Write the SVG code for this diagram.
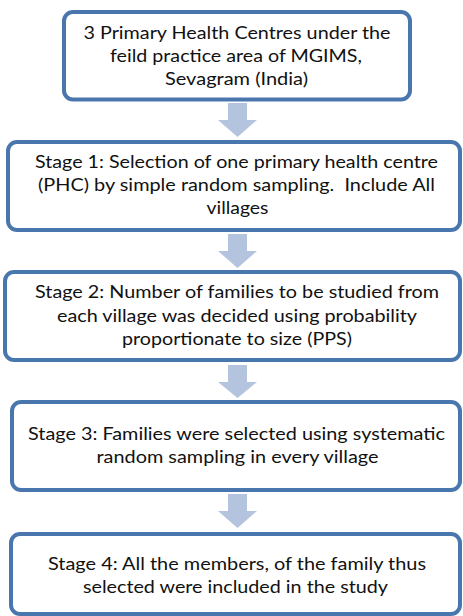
<svg xmlns="http://www.w3.org/2000/svg" width="463" height="616" viewBox="0 0 463 616">
<style>
.box{fill:#ffffff;stroke:#4a76ae;stroke-width:4}
.arr{fill:#b4c4df;stroke:none}
text{font-family:Lato,"Noto Sans","Liberation Sans",sans-serif;font-size:18px;fill:#111111;text-anchor:middle}
</style>
<rect width="463" height="616" fill="#ffffff"/>
<g id="connectors">
<path class="arr" d="M228,103 H247 V120 H257 L237.5,137 L218,120 H228 Z"/>
<path class="arr" d="M228,234 H247 V251 H257 L237.5,268 L218,251 H228 Z"/>
<path class="arr" d="M228,365 H247 V382 H257 L237.5,398 L218,382 H228 Z"/>
<path class="arr" d="M228,494 H247 V511 H257 L237.5,528 L218,511 H228 Z"/>
</g>
<g id="node0">
<rect class="box" x="64" y="12" width="346" height="87.5" rx="9"/>
<text x="237" y="38.5" textLength="307" lengthAdjust="spacingAndGlyphs">3 Primary Health Centres under the</text>
<text x="236" y="61.5" textLength="252" lengthAdjust="spacingAndGlyphs">feild practice area of MGIMS,</text>
<text x="236.5" y="84.5" textLength="143" lengthAdjust="spacingAndGlyphs">Sevagram (India)</text>
</g>
<g id="node1">
<rect class="box" x="8" y="142" width="452" height="88" rx="9"/>
<text x="236.5" y="168" textLength="403" lengthAdjust="spacingAndGlyphs">Stage 1: Selection of one primary health centre</text>
<text x="236.5" y="191" textLength="397" lengthAdjust="spacingAndGlyphs" xml:space="preserve">(PHC) by simple random sampling.  Include All</text>
<text x="237.5" y="214" textLength="62" lengthAdjust="spacingAndGlyphs">villages</text>
</g>
<g id="node2">
<rect class="box" x="5" y="272" width="455" height="88" rx="9"/>
<text x="237" y="298" textLength="404" lengthAdjust="spacingAndGlyphs">Stage 2: Number of families to be studied from</text>
<text x="237" y="321.5" textLength="360" lengthAdjust="spacingAndGlyphs">each village was decided using probability</text>
<text x="237" y="345" textLength="230" lengthAdjust="spacingAndGlyphs">proportionate to size (PPS)</text>
</g>
<g id="node3">
<rect class="box" x="12" y="402" width="448" height="88" rx="9"/>
<text x="236.5" y="440" textLength="417" lengthAdjust="spacingAndGlyphs">Stage 3: Families were selected using systematic</text>
<text x="237.5" y="463" textLength="282" lengthAdjust="spacingAndGlyphs">random sampling in every village</text>
</g>
<g id="node4">
<rect class="box" x="11" y="534" width="449" height="80" rx="9"/>
<text x="237" y="570" textLength="378" lengthAdjust="spacingAndGlyphs">Stage 4: All the members, of the family thus</text>
<text x="235.5" y="593" textLength="305" lengthAdjust="spacingAndGlyphs">selected were included in the study</text>
</g>
</svg>
